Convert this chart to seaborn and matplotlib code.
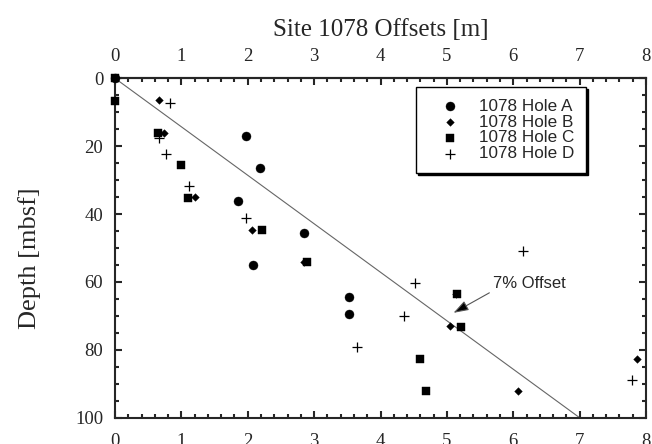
import pandas as pd
import matplotlib
matplotlib.use("Agg")
import matplotlib.pyplot as plt
import seaborn as sns
from matplotlib.ticker import MultipleLocator

# offsets [m] and depths [mbsf]
hole_a_x = [0, 1.97, 2.18, 1.86, 2.85, 2.08, 3.53, 3.53]
hole_a_y = [0, 17.0, 26.4, 36.1, 45.5, 55.0, 64.5, 69.4]

hole_b_x = [0.67, 0.74, 1.21, 2.07, 2.84, 5.13, 5.05, 6.07, 7.87]
hole_b_y = [6.5, 16.1, 35.0, 44.6, 54.2, 63.6, 73.0, 92.1, 82.6]

hole_c_x = [0, 0, 0.65, 0.99, 1.10, 2.22, 2.89, 5.15, 5.21, 4.59, 4.69]
hole_c_y = [0, 6.7, 16.1, 25.6, 35.4, 44.7, 54.2, 63.6, 73.4, 82.7, 92.1]

hole_d_x = [0.83, 0.66, 0.77, 1.12, 1.98, 6.14, 4.52, 4.36, 3.65, 7.79]
hole_d_y = [7.4, 17.5, 22.4, 31.7, 41.3, 50.8, 60.4, 69.9, 79.3, 89.0]

# 7% offset reference line
line_x = [0, 7]
line_y = [0, 100]

sns.set_style("ticks")
serif = ["Liberation Serif", "DejaVu Serif"]
sans = ["Liberation Sans", "DejaVu Sans"]
plt.rcParams["font.family"] = serif

fig = plt.figure(figsize=(6.52, 4.44), dpi=100)
ax = fig.add_axes([0.1764, 0.0592, 0.8144, 0.7644])

holes = [
    ("1078 Hole A", hole_a_x, hole_a_y, "o", 42),
    ("1078 Hole B", hole_b_x, hole_b_y, "D", 15),
    ("1078 Hole C", hole_c_x, hole_c_y, "s", 38),
    ("1078 Hole D", hole_d_x, hole_d_y, "+", 48),
]

sns.lineplot(x=line_x, y=line_y, ax=ax, color="#666666", lw=0.8,
             sort=False, estimator=None)

for name, xs, ys, mk, size in holes:
    df = pd.DataFrame({"offset": xs, "depth": ys})
    if mk == "+":
        sns.scatterplot(data=df, x="offset", y="depth", ax=ax, marker=mk,
                        s=size, color="k", linewidth=0.9, label=name,
                        clip_on=False, zorder=3)
    else:
        sns.scatterplot(data=df, x="offset", y="depth", ax=ax, marker=mk,
                        s=size, color="k", edgecolor="k", linewidth=0.3,
                        label=name, clip_on=False, zorder=3)

ax.set_xlim(0, 8)
ax.set_ylim(100, 0)
ax.set_xlabel("")
ax.set_ylabel("Depth [mbsf]", fontsize=19)
ax.yaxis.set_label_coords(-0.140, 0.47)

ax.xaxis.set_major_locator(MultipleLocator(1))
ax.xaxis.set_minor_locator(MultipleLocator(0.2))
ax.yaxis.set_major_locator(MultipleLocator(20))
ax.yaxis.set_minor_locator(MultipleLocator(5))
ax.tick_params(which="both", direction="in", top=False, right=True,
               labelsize=13.5, width=1.5)
ax.tick_params(axis="x", pad=10.8)
ax.tick_params(axis="y", pad=8.5)
ax.tick_params(which="major", length=5)
ax.tick_params(which="minor", length=3)
for sp in ax.spines.values():
    sp.set_visible(True)
    sp.set_linewidth(1.5)

top = ax.secondary_xaxis("top")
top.xaxis.set_major_locator(MultipleLocator(1))
top.xaxis.set_minor_locator(MultipleLocator(0.2))
top.tick_params(which="both", direction="in", labelsize=13.5, width=1.5, pad=9.3)
top.tick_params(which="major", length=5)
top.tick_params(which="minor", length=3)
top.spines["top"].set_linewidth(1.5)
top.set_xlabel("Site 1078 Offsets [m]", fontsize=18, labelpad=9)

ax.text(6.25, 60.4, "7% Offset", fontsize=12, family=sans,
        ha="center", va="center")
ax.annotate("", xy=(5.10, 69.1), xytext=(5.64, 63.2),
            arrowprops=dict(arrowstyle="-|>,head_length=0.65,head_width=0.22",
                            fc="k", ec="#555555", lw=0.8, mutation_scale=14,
                            shrinkA=0, shrinkB=0))

leg = ax.legend(loc="upper left", bbox_to_anchor=(0.567, 0.974),
                borderaxespad=0, frameon=True, fancybox=False,
                shadow={"color": "k", "alpha": 1, "ox": 1.5, "oy": -1.5},
                prop={"family": sans, "size": 12.3}, handlelength=2.62,
                handletextpad=0.36, borderpad=0.68, labelspacing=0.05)
leg.get_frame().set_edgecolor("k")
leg.get_frame().set_linewidth(1.0)
leg.get_frame().set_alpha(1)

fig.savefig("out.png", dpi=100)
